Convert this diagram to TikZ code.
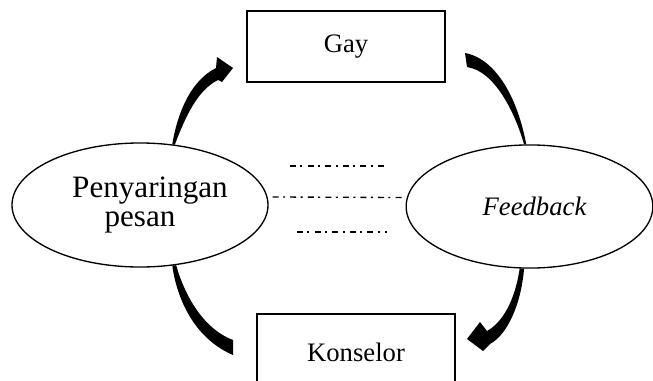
\documentclass[tikz,border=0pt]{standalone}
\usepackage{fontspec}
\setmainfont{Liberation Serif}
\usetikzlibrary{shapes.geometric,calc}
\tikzset{
  boxnode/.style={draw=black, line width=0.7pt, rectangle, minimum width=89.1pt,
                  minimum height=32pt, font=\fontsize{12}{14}\selectfont},
  ovalnode/.style={draw=black, line width=0.6pt, ellipse, inner sep=0pt, align=center},
  dotline/.style={line width=0.6pt, dash pattern=on 2.7pt off 2pt on 0.9pt off 2.3pt},
  curvefill/.style={fill=black}}

\begin{document}
\begin{tikzpicture}[x=0.45pt, y=-0.45pt]
  \clip (0,0) rectangle (653,380);
  % the two boxes
  \node[boxnode] (gay) at (346,46.5) {Gay};
  \node[boxnode, minimum height=34.2pt] (kons) at (356,352) {Konselor};
  % the two ovals
  \node[ovalnode, minimum width=115.2pt, minimum height=55.8pt,
        font=\fontsize{14}{13}\selectfont] (pesan) at (140,205)
    {\hspace*{9pt}Penyaringan\\pesan};
  \node[ovalnode, minimum width=111pt, minimum height=55.4pt,
        font=\fontsize{12}{14}\selectfont\itshape] (feed) at (529.5,206.5)
    {\hspace*{4.5pt}Feedback};
  % dash-dot lines in between
  \draw[dotline] (290,166) -- (385,166);
  \draw[dotline] ([shift={(4,-8)}]pesan.east) -- ([shift={(-3,-9)}]feed.west);
  \draw[dotline] (297,232) -- (387,232);
  % curved arrows
  \fill[curvefill] (pesan.62) .. controls (178,110) and (192,80) .. (216,68)
    -- (217,57) -- (233,68) -- (222,82) -- (218,80)
    .. controls (198,90) and (186,115) .. (pesan.60) -- cycle;
  \fill[curvefill] (465,53) .. controls (497,59) and (518,100) .. (feed.93)
    -- (feed.95) .. controls (514,110) and (494,71) .. (467,67) -- cycle;
  \fill[curvefill] (feed.-99) .. controls (515,300) and (503,322) .. (487,331)
    -- (480,322) -- (467,339) -- (483,351) -- (490,344)
    .. controls (507,335) and (521,305) .. (feed.-95) -- cycle;
  \fill[curvefill] (pesan.-62) .. controls (178,305) and (198,340) .. (233,355)
    -- (233,340) .. controls (206,330) and (186,300) .. (pesan.-59) -- cycle;
\end{tikzpicture}
\end{document}
